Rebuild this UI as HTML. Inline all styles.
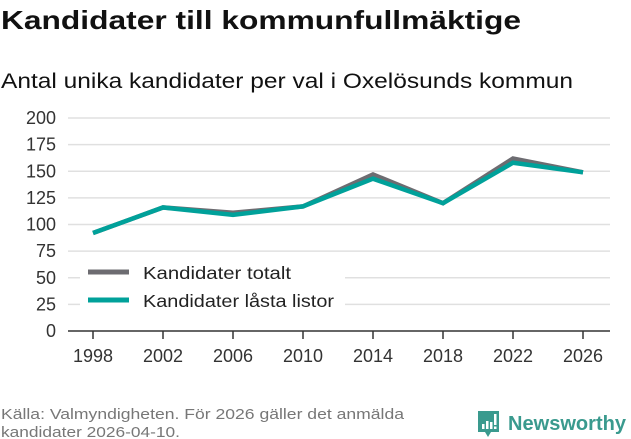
<!DOCTYPE html>
<html><head><meta charset="utf-8"><style>
html,body{margin:0;padding:0;background:#fff;}
svg{display:block;font-family:"Liberation Sans",sans-serif;}
</style></head><body>
<svg id="chart" width="631" height="439" viewBox="0 0 631 439">
<text x="1" y="29" font-size="26" font-weight="bold" fill="#111" textLength="520" lengthAdjust="spacingAndGlyphs">Kandidater till kommunfullmäktige</text>
<text x="1" y="88" font-size="21" fill="#111" textLength="572" lengthAdjust="spacingAndGlyphs">Antal unika kandidater per val i Oxelösunds kommun</text>
<g id="grid"></g>
<g id="yaxis"></g>
<g id="xaxis"></g>
<g id="series"></g>
<g>
<rect x="80" y="258" width="265" height="56" fill="#fff"/>
<line x1="88" y1="272" x2="129" y2="272" stroke="#6d6c71" stroke-width="5"/>
<text x="143" y="279" font-size="17.5" fill="#222" textLength="148" lengthAdjust="spacingAndGlyphs">Kandidater totalt</text>
<line x1="88" y1="300" x2="129" y2="300" stroke="#00a19a" stroke-width="5"/>
<text x="143" y="307" font-size="17.5" fill="#222" textLength="191" lengthAdjust="spacingAndGlyphs">Kandidater låsta listor</text>
</g>
<text x="1" y="419" font-size="15" fill="#777" textLength="403" lengthAdjust="spacingAndGlyphs">Källa: Valmyndigheten. För 2026 gäller det anmälda</text>
<text x="1" y="437" font-size="15" fill="#777" textLength="179" lengthAdjust="spacingAndGlyphs">kandidater 2026-04-10.</text>
<g>
<path d="M478 411 h21 v21 h-8 l-3 5 l-3 -5 h-7 z" fill="#3a9a8e"/>
<rect x="482" y="424" width="2.5" height="5" fill="#fff"/><rect x="486" y="421" width="2.5" height="8" fill="#fff"/><rect x="490" y="422" width="2.5" height="7" fill="#fff"/><rect x="494" y="414" width="2.5" height="11" fill="#fff"/><rect x="494" y="426.5" width="2.5" height="2.5" fill="#fff"/>
<text x="508" y="430" font-size="20" font-weight="bold" fill="#3a9a8e" textLength="118" lengthAdjust="spacingAndGlyphs">Newsworthy</text>
</g>
</svg>
<script>
const years = [1998, 2002, 2006, 2010, 2014, 2018, 2022, 2026];
const totalt = [92, 116, 111, 117, 147, 120, 162, 149];
const lasta = [92, 116, 109, 117, 143, 120, 158, 149];
const yTicks = [0, 25, 50, 75, 100, 125, 150, 175, 200];
const NS = "http://www.w3.org/2000/svg";
const X0 = 93, X1 = 583, Y0 = 331, Y1 = 118;
function x(v){return X0 + (v - years[0]) / (years[years.length-1] - years[0]) * (X1 - X0);}
function y(v){return Y0 - v / 200 * (Y0 - Y1);}
function mk(tag, attrs, parent){const e=document.createElementNS(NS,tag);for(const k in attrs)e.setAttribute(k,attrs[k]);parent.appendChild(e);return e;}
const grid=document.getElementById('grid'), ya=document.getElementById('yaxis'), xa=document.getElementById('xaxis'), se=document.getElementById('series');
yTicks.forEach(t=>{
  if(t>0){
    const g=mk('line',{x1:68,x2:610,y1:y(t),y2:y(t),stroke:'#e0e0e0','stroke-width':1.5},grid);
    
    
  }
  const l=mk('text',{x:56,y:y(t)+6,'font-size':18,fill:'#333','text-anchor':'end'},ya);
  l.textContent=t;
  
  
});
const ax=mk('line',{x1:68,x2:610,y1:Y0,y2:Y0,stroke:'#333','stroke-width':1.5},xa);


years.forEach(yr=>{
  const tk=mk('line',{x1:x(yr),x2:x(yr),y1:Y0,y2:Y0+8,stroke:'#333','stroke-width':1.5},xa);
  
  
  const l=mk('text',{x:x(yr),y:362,'font-size':18,fill:'#333','text-anchor':'middle'},xa);
  l.textContent=yr;
  
  
});
function line(vals,color,name){
  const p=mk('polyline',{points:vals.map((v,i)=>x(years[i])+','+y(v)).join(' '),fill:'none',stroke:color,'stroke-width':4.5,'stroke-linejoin':'miter'},se);
  
  
}
line(totalt,'#6d6c71','line-kandidater-totalt');
line(lasta,'#00a19a','line-kandidater-lasta-listor');
</script>
</body></html>
